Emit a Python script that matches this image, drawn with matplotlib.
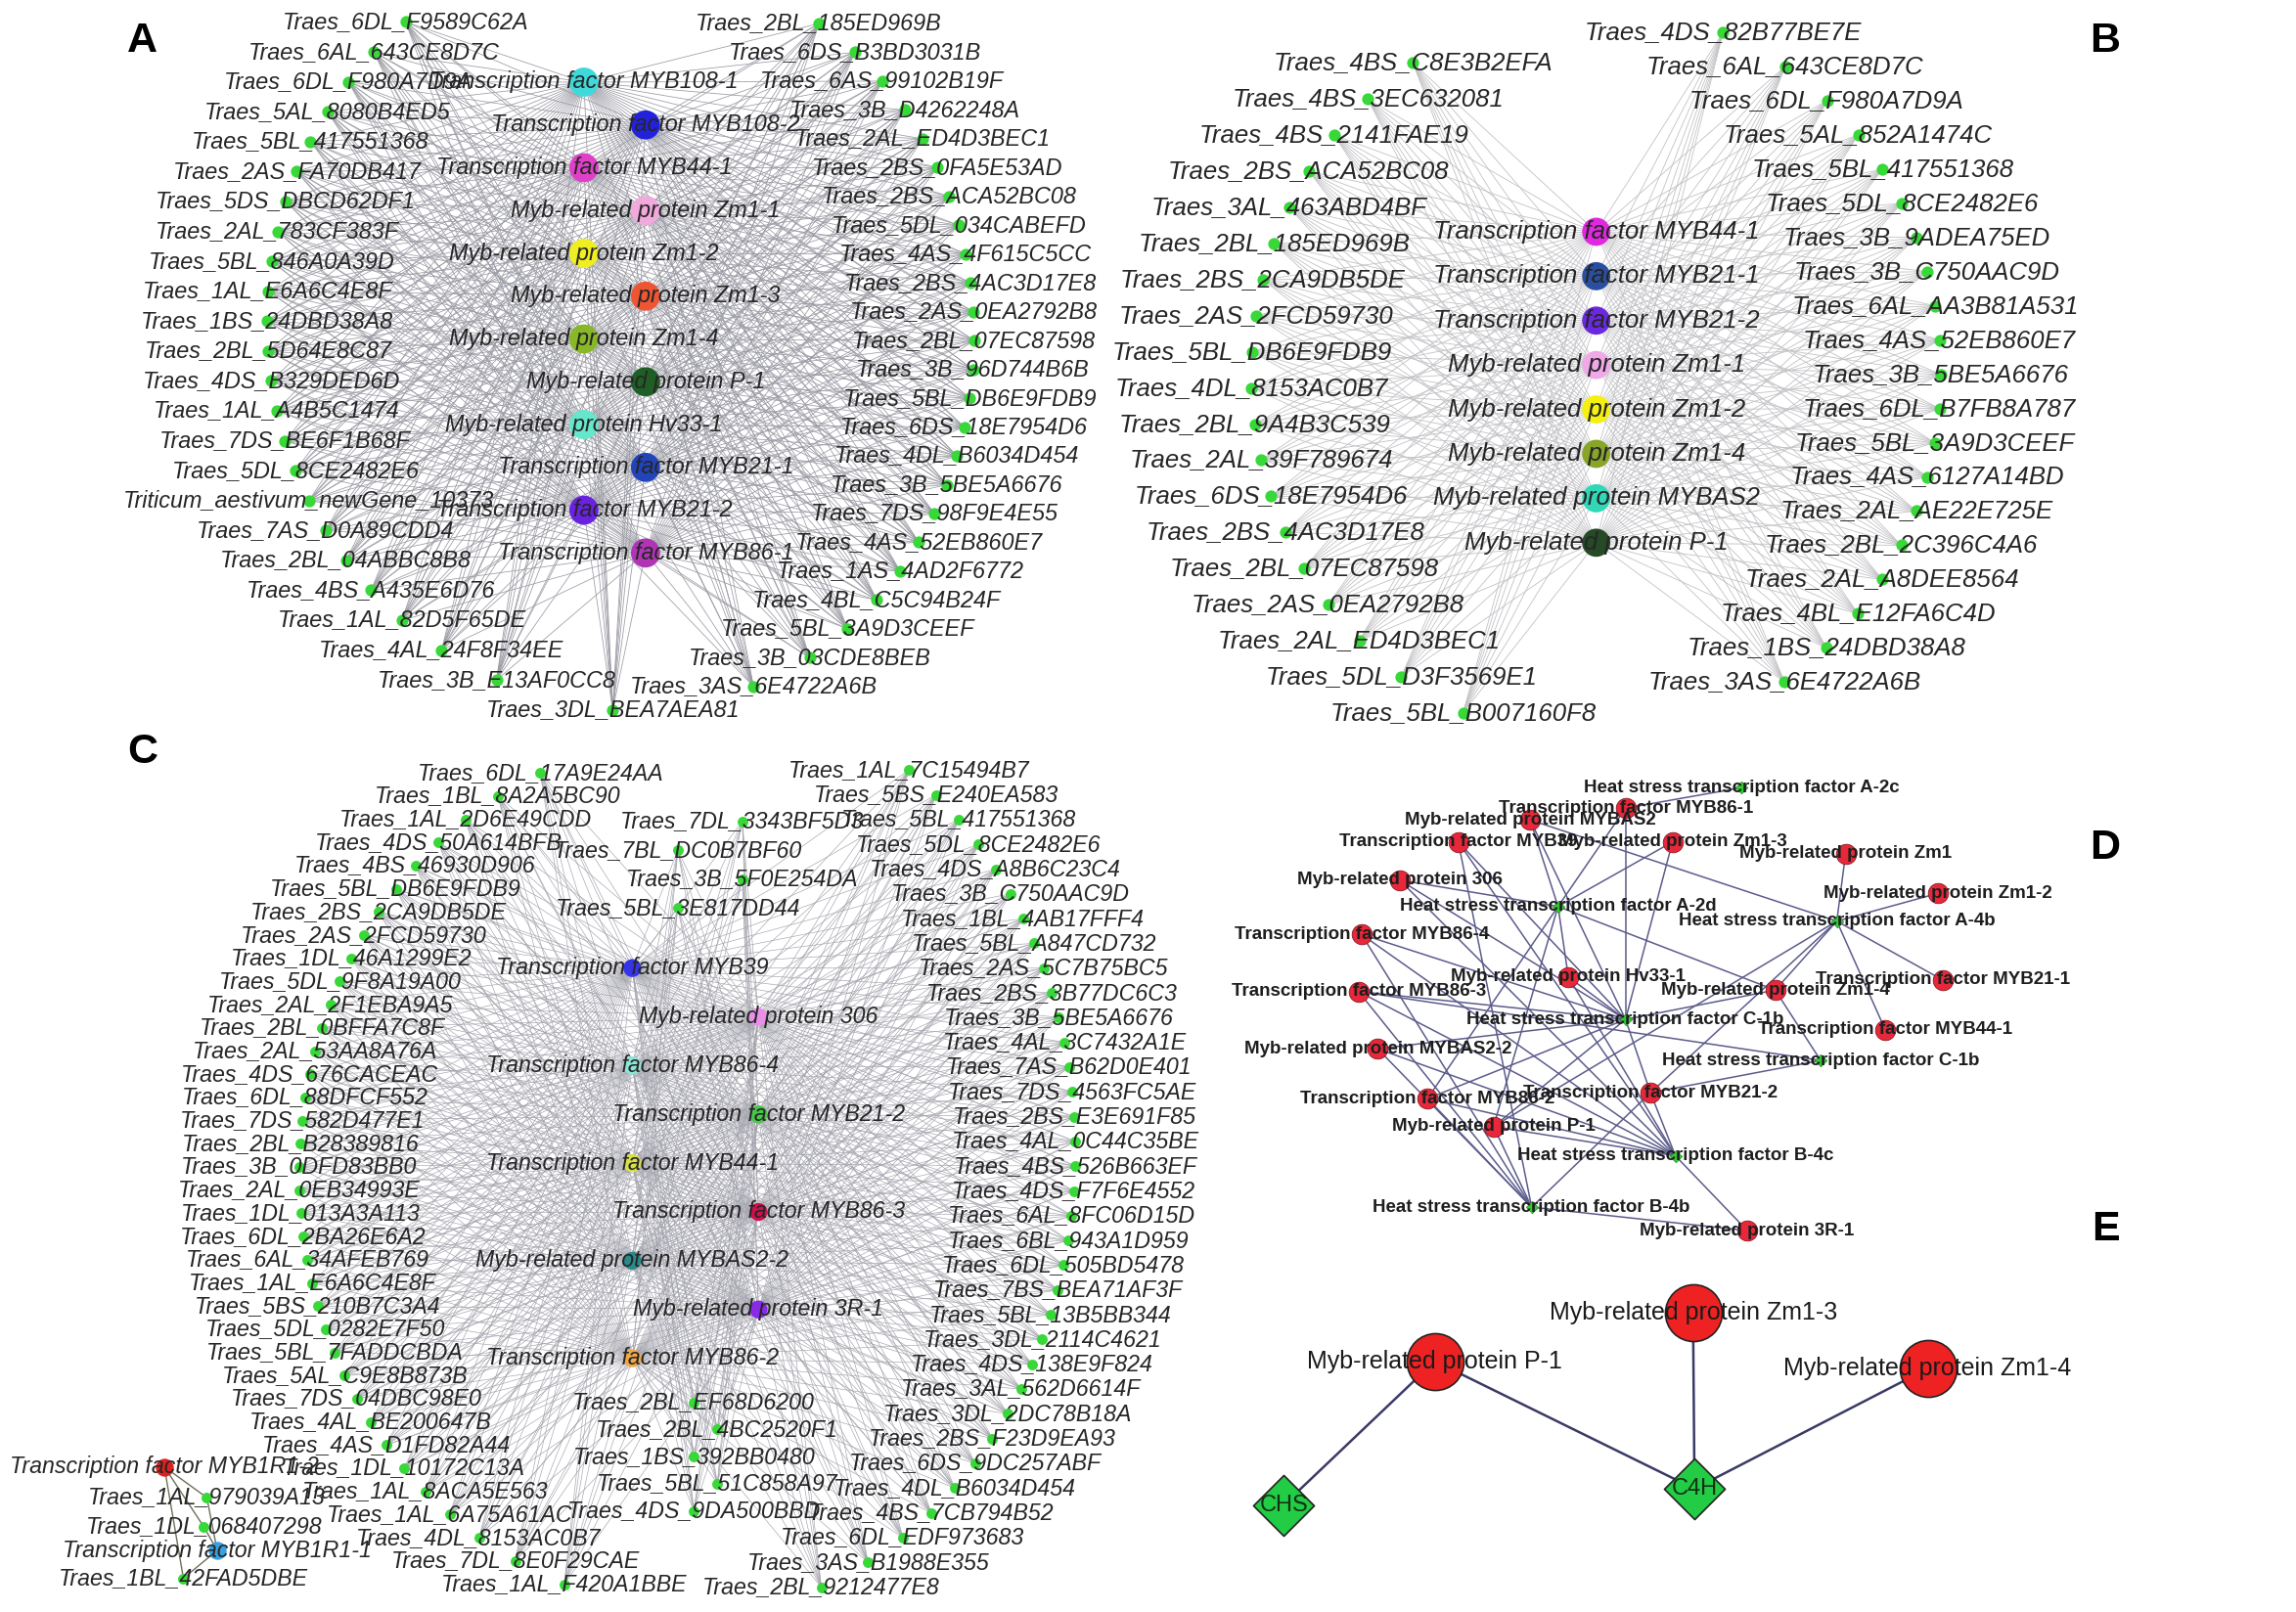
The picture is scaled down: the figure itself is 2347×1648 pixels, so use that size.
import numpy as np
import matplotlib
matplotlib.use('Agg')
import matplotlib.pyplot as plt
from matplotlib.collections import LineCollection

plt.rcParams['font.family'] = ['Liberation Sans', 'DejaVu Sans']

# ---------------- panel A ----------------
a_left = ['Traes_6DL_F9589C62A', 'Traes_6AL_643CE8D7C', 'Traes_6DL_F980A7D9A', 'Traes_5AL_8080B4ED5',
          'Traes_5BL_417551368', 'Traes_2AS_FA70DB417', 'Traes_5DS_DBCD62DF1', 'Traes_2AL_783CF383F',
          'Traes_5BL_846A0A39D', 'Traes_1AL_E6A6C4E8F', 'Traes_1BS_24DBD38A8', 'Traes_2BL_5D64E8C87',
          'Traes_4DS_B329DED6D', 'Traes_1AL_A4B5C1474', 'Traes_7DS_BE6F1B68F', 'Traes_5DL_8CE2482E6',
          'Triticum_aestivum_newGene_10373', 'Traes_7AS_D0A89CDD4', 'Traes_2BL_04ABBC8B8',
          'Traes_4BS_A435E6D76', 'Traes_1AL_82D5F65DE', 'Traes_4AL_24F8F34EE', 'Traes_3B_E13AF0CC8',
          'Traes_3DL_BEA7AEA81']
a_right = ['Traes_2BL_185ED969B', 'Traes_6DS_B3BD3031B', 'Traes_6AS_99102B19F', 'Traes_3B_D4262248A',
           'Traes_2AL_ED4D3BEC1', 'Traes_2BS_0FA5E53AD', 'Traes_2BS_ACA52BC08', 'Traes_5DL_034CABEFD',
           'Traes_4AS_4F615C5CC', 'Traes_2BS_4AC3D17E8', 'Traes_2AS_0EA2792B8', 'Traes_2BL_07EC87598',
           'Traes_3B_96D744B6B', 'Traes_5BL_DB6E9FDB9', 'Traes_6DS_18E7954D6', 'Traes_4DL_B6034D454',
           'Traes_3B_5BE5A6676', 'Traes_7DS_98F9E4E55', 'Traes_4AS_52EB860E7', 'Traes_1AS_4AD2F6772',
           'Traes_4BL_C5C94B24F', 'Traes_5BL_3A9D3CEEF', 'Traes_3B_03CDE8BEB', 'Traes_3AS_6E4722A6B']
a_hubs = ['Transcription factor MYB108-1', 'Transcription factor MYB108-2', 'Transcription factor MYB44-1',
          'Myb-related protein Zm1-1', 'Myb-related protein Zm1-2', 'Myb-related protein Zm1-3',
          'Myb-related protein Zm1-4', 'Myb-related protein P-1', 'Myb-related protein Hv33-1',
          'Transcription factor MYB21-1', 'Transcription factor MYB21-2', 'Transcription factor MYB86-1']

# ---------------- panel B ----------------
b_left = ['Traes_4BS_C8E3B2EFA', 'Traes_4BS_3EC632081', 'Traes_4BS_2141FAE19', 'Traes_2BS_ACA52BC08',
          'Traes_3AL_463ABD4BF', 'Traes_2BL_185ED969B', 'Traes_2BS_2CA9DB5DE', 'Traes_2AS_2FCD59730',
          'Traes_5BL_DB6E9FDB9', 'Traes_4DL_8153AC0B7', 'Traes_2BL_9A4B3C539', 'Traes_2AL_39F789674',
          'Traes_6DS_18E7954D6', 'Traes_2BS_4AC3D17E8', 'Traes_2BL_07EC87598', 'Traes_2AS_0EA2792B8',
          'Traes_2AL_ED4D3BEC1', 'Traes_5DL_D3F3569E1', 'Traes_5BL_B007160F8']
b_right = ['Traes_4DS_82B77BE7E', 'Traes_6AL_643CE8D7C', 'Traes_6DL_F980A7D9A', 'Traes_5AL_852A1474C',
           'Traes_5BL_417551368', 'Traes_5DL_8CE2482E6', 'Traes_3B_9ADEA75ED', 'Traes_3B_C750AAC9D',
           'Traes_6AL_AA3B81A531', 'Traes_4AS_52EB860E7', 'Traes_3B_5BE5A6676', 'Traes_6DL_B7FB8A787',
           'Traes_5BL_3A9D3CEEF', 'Traes_4AS_6127A14BD', 'Traes_2AL_AE22E725E', 'Traes_2BL_2C396C4A6',
           'Traes_2AL_A8DEE8564', 'Traes_4BL_E12FA6C4D', 'Traes_1BS_24DBD38A8', 'Traes_3AS_6E4722A6B']
b_hubs = ['Transcription factor MYB44-1', 'Transcription factor MYB21-1', 'Transcription factor MYB21-2',
          'Myb-related protein Zm1-1', 'Myb-related protein Zm1-2', 'Myb-related protein Zm1-4',
          'Myb-related protein MYBAS2', 'Myb-related protein P-1']

# ---------------- panel C ----------------
c_left = ['Traes_6DL_17A9E24AA', 'Traes_1BL_8A2A5BC90', 'Traes_1AL_2D6E49CDD', 'Traes_4DS_50A614BFB',
          'Traes_4BS_46930D906', 'Traes_5BL_DB6E9FDB9', 'Traes_2BS_2CA9DB5DE', 'Traes_2AS_2FCD59730',
          'Traes_1DL_46A1299E2', 'Traes_5DL_9F8A19A00', 'Traes_2AL_2F1EBA9A5', 'Traes_2BL_0BFFA7C8F',
          'Traes_2AL_53AA8A76A', 'Traes_4DS_676CACEAC', 'Traes_6DL_88DFCF552', 'Traes_7DS_582D477E1',
          'Traes_2BL_B28389816', 'Traes_3B_0DFD83BB0', 'Traes_2AL_0EB34993E', 'Traes_1DL_013A3A113',
          'Traes_6DL_2BA26E6A2', 'Traes_6AL_34AFEB769', 'Traes_1AL_E6A6C4E8F', 'Traes_5BS_210B7C3A4',
          'Traes_5DL_0282E7F50', 'Traes_5BL_7FADDCBDA', 'Traes_5AL_C9E8B873B', 'Traes_7DS_04DBC98E0',
          'Traes_4AL_BE200647B', 'Traes_4AS_D1FD82A44', 'Traes_1DL_10172C13A', 'Traes_1AL_8ACA5E563',
          'Traes_1AL_6A75A61AC', 'Traes_4DL_8153AC0B7', 'Traes_7DL_8E0F29CAE', 'Traes_1AL_F420A1BBE']
c_right = ['Traes_1AL_7C15494B7', 'Traes_5BS_E240EA583', 'Traes_5BL_417551368', 'Traes_5DL_8CE2482E6',
           'Traes_4DS_A8B6C23C4', 'Traes_3B_C750AAC9D', 'Traes_1BL_4AB17FFF4', 'Traes_5BL_A847CD732',
           'Traes_2AS_5C7B75BC5', 'Traes_2BS_3B77DC6C3', 'Traes_3B_5BE5A6676', 'Traes_4AL_3C7432A1E',
           'Traes_7AS_B62D0E401', 'Traes_7DS_4563FC5AE', 'Traes_2BS_E3E691F85', 'Traes_4AL_0C44C35BE',
           'Traes_4BS_526B663EF', 'Traes_4DS_F7F6E4552', 'Traes_6AL_8FC06D15D', 'Traes_6BL_943A1D959',
           'Traes_6DL_505BD5478', 'Traes_7BS_BEA71AF3F', 'Traes_5BL_13B5BB344', 'Traes_3DL_2114C4621',
           'Traes_4DS_138E9F824', 'Traes_3AL_562D6614F', 'Traes_3DL_2DC78B18A', 'Traes_2BS_F23D9EA93',
           'Traes_6DS_9DC257ABF', 'Traes_4DL_B6034D454', 'Traes_4BS_7CB794B52', 'Traes_6DL_EDF973683',
           'Traes_3AS_B1988E355', 'Traes_2BL_9212477E8']
c_inner_top = ['Traes_7DL_3343BF5D3', 'Traes_7BL_DC0B7BF60', 'Traes_3B_5F0E254DA', 'Traes_5BL_3E817DD44']
c_inner_bottom = ['Traes_2BL_EF68D6200', 'Traes_2BL_4BC2520F1', 'Traes_1BS_392BB0480',
                  'Traes_5BL_51C858A97', 'Traes_4DS_9DA500BBD']
c_hubs = ['Transcription factor MYB39', 'Myb-related protein 306', 'Transcription factor MYB86-4',
          'Transcription factor MYB21-2', 'Transcription factor MYB44-1', 'Transcription factor MYB86-3',
          'Myb-related protein MYBAS2-2', 'Myb-related protein 3R-1', 'Transcription factor MYB86-2']
c_small_hubs = ['Transcription factor MYB1R1-2', 'Transcription factor MYB1R1-1']
c_small_genes = ['Traes_1AL_979039A13', 'Traes_1DL_068407298', 'Traes_1BL_42FAD5DBE']

# ---------------- panel D ----------------
d_myb = ['Transcription factor MYB86-1', 'Myb-related protein MYBAS2', 'Transcription factor MYB39',
         'Myb-related protein Zm1-3', 'Myb-related protein Zm1', 'Myb-related protein 306',
         'Myb-related protein Zm1-2', 'Transcription factor MYB86-4', 'Myb-related protein Hv33-1',
         'Transcription factor MYB21-1', 'Transcription factor MYB86-3', 'Myb-related protein Zm1-4',
         'Transcription factor MYB44-1', 'Myb-related protein MYBAS2-2', 'Transcription factor MYB21-2',
         'Transcription factor MYB86-2', 'Myb-related protein P-1', 'Myb-related protein 3R-1']
d_hsf = ['A-2c', 'A-2d', 'A-4b', 'C-1b', 'C-1b.2', 'B-4c', 'B-4b']
d_edges = [('MYB86-1', 'A-2c'), ('MYB86-1', 'A-2d'), ('MYB86-1', 'C-1b'),
           ('MYBAS2', 'A-2d'), ('MYBAS2', 'A-4b'), ('MYBAS2', 'C-1b'),
           ('MYB39', 'C-1b'), ('MYB39', 'B-4c'), ('MYB39', 'B-4b'),
           ('306', 'A-2d'), ('306', 'C-1b'), ('306', 'B-4c'),
           ('MYB86-4', 'C-1b'), ('MYB86-4', 'B-4c'), ('MYB86-4', 'B-4b'),
           ('Hv33-1', 'A-2d'), ('Hv33-1', 'C-1b'), ('Hv33-1', 'B-4c'),
           ('MYB86-3', 'C-1b'), ('MYB86-3', 'B-4c'), ('MYB86-3', 'B-4b'), ('MYB86-3', 'C-1b.2'),
           ('MYBAS2-2', 'C-1b'), ('MYBAS2-2', 'B-4c'), ('MYBAS2-2', 'B-4b'),
           ('MYB86-2', 'A-2d'), ('MYB86-2', 'C-1b'), ('MYB86-2', 'B-4c'), ('MYB86-2', 'B-4b'),
           ('P-1', 'A-2d'), ('P-1', 'C-1b'), ('P-1', 'B-4c'), ('P-1', 'B-4b'), ('P-1', 'A-4b'),
           ('Zm1-3', 'A-2d'), ('Zm1-3', 'C-1b'),
           ('Zm1', 'A-4b'), ('Zm1-2', 'A-4b'), ('MYB21-1', 'A-4b'), ('MYB44-1', 'A-4b'),
           ('Zm1-4', 'A-4b'), ('Zm1-4', 'C-1b.2'), ('Zm1-4', 'C-1b'), ('Zm1-4', 'A-2d'),
           ('MYB21-2', 'C-1b'), ('MYB21-2', 'C-1b.2'), ('MYB21-2', 'B-4c'), ('MYB21-2', 'B-4b'),
           ('MYB21-2', 'A-4b'), ('3R-1', 'B-4c'), ('3R-1', 'B-4b')]

# ---------------- panel E ----------------
e_myb = ['Myb-related protein P-1', 'Myb-related protein Zm1-3', 'Myb-related protein Zm1-4']
e_genes = ['CHS', 'C4H']
e_edges = [('P-1', 'CHS'), ('P-1', 'C4H'), ('Zm1-3', 'C4H'), ('Zm1-4', 'C4H')]

# ---------------- colours ----------------
a_hub_colors = ['#3fd9d9', '#2222dd', '#e040c8', '#f2a9dc', '#eeee22', '#ee5533',
                '#88b828', '#1f5f25', '#66e6cc', '#2244bb', '#6a22e0', '#b035b5']
b_hub_colors = ['#e028e0', '#2a4fa0', '#6a28e0', '#f0a8e8', '#f5f010', '#88a528', '#30d8b8', '#254a25']
c_hub_colors = ['#3535e8', '#e890e8', '#8ae6d8', '#48c848', '#d8e048', '#d0104e', '#2a8a8a',
                '#8a2ae8', '#f0a848']
c_small_colors = ['#e02020', '#3aa0e0']
GENE_GREEN = '#38d838'

# ---------------- layout (display units, 1 unit = 1.5 px) ----------------
W, H = 1565, 1099


def arc(n, cx, cy, rx, ry, y0, y1, side):
    ys = np.linspace(y0, y1, n)
    t = np.clip((ys - cy) / ry, -1, 1)
    xs = cx + side * rx * np.sqrt(1 - t ** 2)
    return np.column_stack([xs, ys])


def zigzag(n, cx, amp, y0, y1, first=-1):
    ys = np.linspace(y0, y1, n)
    sign = first * (-1.0) ** np.arange(n)
    return np.column_stack([cx + amp * sign, ys])


small_layout = {'Transcription factor MYB1R1-2': (112, 1000), 'Traes_1AL_979039A13': (141, 1021),
                'Traes_1DL_068407298': (139, 1041), 'Transcription factor MYB1R1-1': (148, 1057),
                'Traes_1BL_42FAD5DBE': (125, 1076)}
d_layout = {'A-2c': (1187, 537), 'MYB86-1': (1108, 551), 'MYBAS2': (1043, 559), 'MYB39': (994, 574),
            'Zm1-3': (1140, 574), 'Zm1': (1258, 582), '306': (954, 600), 'Zm1-2': (1321, 609),
            'A-2d': (1062, 618), 'A-4b': (1252, 628), 'MYB86-4': (928, 637), 'Hv33-1': (1069, 666),
            'MYB21-1': (1324, 668), 'MYB86-3': (926, 676), 'Zm1-4': (1210, 675), 'C-1b': (1108, 695),
            'MYB44-1': (1285, 702), 'MYBAS2-2': (939, 715), 'C-1b.2': (1241, 723), 'MYB21-2': (1125, 745),
            'MYB86-2': (973, 749), 'P-1': (1018, 768), 'B-4c': (1142, 788), 'B-4b': (1044, 823),
            '3R-1': (1191, 839)}
e_layout = {'P-1': (978, 928), 'Zm1-3': (1154, 895), 'Zm1-4': (1314, 933),
            'CHS': (875, 1026), 'C4H': (1155, 1015)}

fig = plt.figure(figsize=(23.47, 16.48), dpi=100)
ax = fig.add_axes([0, 0, 1, 1])
ax.set_xlim(0, W)
ax.set_ylim(H, 0)
ax.axis('off')


def star_panel(genes, gpos, hubs, hpos, hcolors, ecolor, lw, gs, hs, fs):
    segs = [[g, h] for g in gpos for h in hpos]
    ax.add_collection(LineCollection(segs, colors=ecolor, linewidths=lw, zorder=1))
    ax.scatter(gpos[:, 0], gpos[:, 1], s=gs, c=GENE_GREEN, linewidths=0, zorder=3)
    ax.scatter(hpos[:, 0], hpos[:, 1], s=hs, c=hcolors, linewidths=0, zorder=3)
    for name, p in list(zip(genes, gpos)) + list(zip(hubs, hpos)):
        ax.text(p[0], p[1], name, ha='center', va='center', fontsize=fs, style='italic',
                color='#262626', zorder=5)


# A
a_gpos = np.vstack([arc(len(a_left), 440, 220, 258, 265, 15, 484, -1),
                    arc(len(a_right), 440, 230, 224, 252, 16, 468, 1)])
a_hpos = zigzag(len(a_hubs), 419, 21, 56, 377)
star_panel(a_left + a_right, a_gpos, a_hubs, a_hpos, a_hub_colors, '#9a9aa4', 0.55, 78, 460, 16.8)

# B
b_gpos = np.vstack([arc(len(b_left), 1090, 255, 237, 251, 43, 486, -1),
                    arc(len(b_right), 1090, 255, 233, 250, 22, 465, 1)])
b_hpos = zigzag(len(b_hubs), 1088, 0, 158, 370)
star_panel(b_left + b_right, b_gpos, b_hubs, b_hpos, b_hub_colors, '#c2c2c6', 0.6, 78, 430, 18.5)

# C
c_gpos = np.vstack([arc(len(c_left), 475, 800, 271, 297, 527, 1080, -1),
                    arc(len(c_right), 470, 785, 263, 316, 525, 1082, 1),
                    zigzag(len(c_inner_top), 484, 22, 560, 619, first=1),
                    zigzag(len(c_inner_bottom), 481, 8, 956, 1030)])
c_hpos = zigzag(len(c_hubs), 474, 43, 660, 926)
star_panel(c_left + c_right + c_inner_top + c_inner_bottom, c_gpos, c_hubs, c_hpos, c_hub_colors,
           '#a2a2ac', 0.45, 62, 175, 16.7)

# C small component
segs = [[small_layout[h], small_layout[g]] for h in c_small_hubs for g in c_small_genes]
ax.add_collection(LineCollection(segs, colors='#6e6e58', linewidths=1.0, zorder=1))
for g in c_small_genes:
    ax.scatter(*small_layout[g], s=62, c=GENE_GREEN, linewidths=0, zorder=3)
    ax.text(*small_layout[g], g, ha='center', va='center', fontsize=16.7, style='italic',
            color='#262626', zorder=5)
for h, col in zip(c_small_hubs, c_small_colors):
    ax.scatter(*small_layout[h], s=175, c=col, linewidths=0, zorder=3)
    ax.text(*small_layout[h], h, ha='center', va='center', fontsize=16.7, style='italic',
            color='#262626', zorder=5)

# D
d_ids = {name.split()[-1]: name for name in d_myb}
segs = [[d_layout[a], d_layout[b]] for a, b in d_edges]
ax.add_collection(LineCollection(segs, colors='#5c5c8c', linewidths=1.1, zorder=1))
for key, name in d_ids.items():
    ax.scatter(*d_layout[key], s=220, c='#e8283a', edgecolors='#8a1822', linewidths=0.6, zorder=3)
    ax.text(*d_layout[key], name, ha='center', va='center', fontsize=13.5, fontweight='bold',
            color='#1e1e1e', zorder=5)
for key in d_hsf:
    ax.scatter(*d_layout[key], s=40, marker='D', c='#33cc33', edgecolors='#1f8a1f', linewidths=0.5,
               zorder=3)
    ax.text(*d_layout[key], 'Heat stress transcription factor ' + key.split('.')[0], ha='center',
            va='center', fontsize=13.5, fontweight='bold', color='#1e1e1e', zorder=5)

# E
e_ids = {name.split()[-1]: name for name in e_myb}
segs = [[e_layout[a], e_layout[b]] for a, b in e_edges]
ax.add_collection(LineCollection(segs, colors='#3a3a66', linewidths=1.8, zorder=1))
for key, name in e_ids.items():
    ax.scatter(*e_layout[key], s=1750, c='#ee2222', edgecolors='#222222', linewidths=1.2, zorder=3)
    ax.text(*e_layout[key], name, ha='center', va='center', fontsize=18, color='#1a1a1a', zorder=5)
for g in e_genes:
    ax.scatter(*e_layout[g], s=1000, marker='D', c='#22cc44', edgecolors='#222222', linewidths=1.2,
               zorder=3)
    ax.text(*e_layout[g], g, ha='center', va='center', fontsize=17, color='#143014', zorder=5)

# panel letters
for letter, (x, y) in {'A': (97, 28), 'B': (1435, 28), 'C': (97, 513),
                       'D': (1435, 578), 'E': (1435, 838)}.items():
    ax.text(x, y, letter, ha='center', va='center', fontsize=31, fontweight='bold', color='black')

fig.savefig('out.png', dpi=100)
